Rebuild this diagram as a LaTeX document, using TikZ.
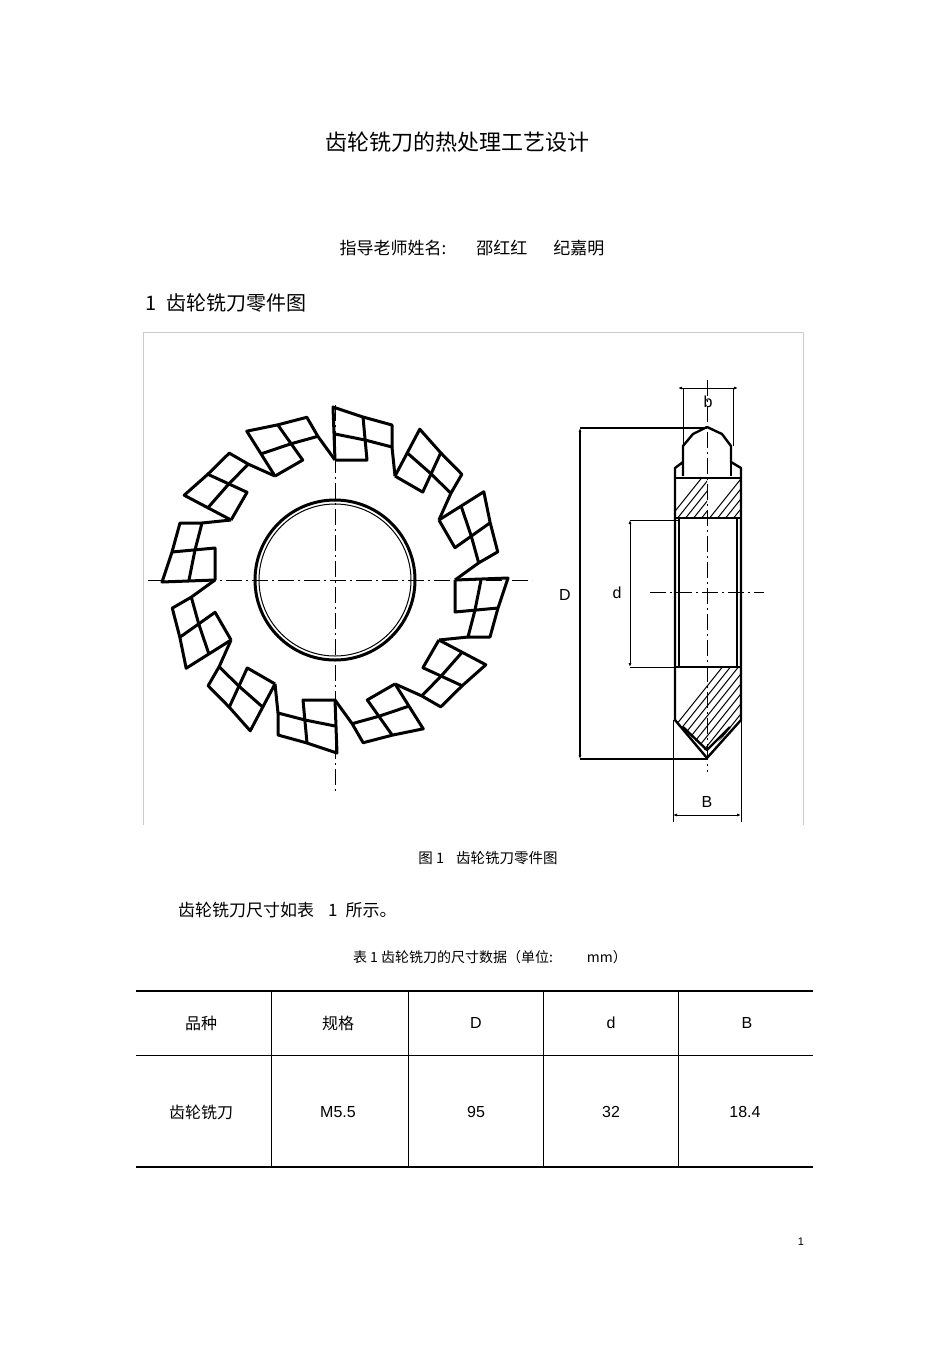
\documentclass[tikz,border=0pt]{standalone}
\usepackage{fontspec}
\setmainfont{Liberation Sans}
\newfontfamily\cjk{Noto Sans CJK SC}
\usetikzlibrary{arrows.meta}
\tikzset{
 thk/.style={line width=2.4pt,line join=round},
 gthk/.style={line width=3pt,line join=round},
 cl/.style={line width=1pt,dash pattern=on 16pt off 4pt on 2pt off 4pt},
 dim/.style={line width=1pt,{Latex[length=4pt,width=3pt]}-{Latex[length=4pt,width=3pt]}},
 ext/.style={line width=1pt},
 txt/.style={inner sep=0pt,font=\cjk},
}
\begin{document}
\begin{tikzpicture}[x=1pt,y=-1pt]
\useasboundingbox (0,0) rectangle (950,1345);
% texts
\node[txt,font=\cjk\fontsize{22}{22}\selectfont] (title) at (457,142) {齿轮铣刀的热处理工艺设计};
\node[txt,font=\cjk\fontsize{17}{17}\selectfont] (tutor) at (472,248) {指导老师姓名:\hspace{30pt}邵红红\hspace{26pt}纪嘉明};
\node[txt,anchor=west,font=\cjk\fontsize{20}{20}\selectfont] (sec) at (145,303) {1\hspace{10pt}齿轮铣刀零件图};
\node[txt,font=\cjk\fontsize{14.5}{14.5}\selectfont] (cap) at (488,858) {图 1\hspace{12pt}齿轮铣刀零件图};
\node[txt,anchor=west,font=\cjk\fontsize{17}{17}\selectfont] (para) at (178,910) {齿轮铣刀尺寸如表\hspace{14pt}1\hspace{8pt}所示。};
\node[txt,font=\cjk\fontsize{14}{14}\selectfont] (tcap) at (490,957) {表 1 齿轮铣刀的尺寸数据（单位:\hspace{34pt}mm）};
\node[inner sep=0pt,font=\fontsize{11}{11}\selectfont] (pg) at (801,1242) {1};
% frame
\draw[gray!40,line width=0.8pt] (143,825) -- (143,332) -- (803,332) -- (803,825);
% gear front view
\foreach \k in {0,...,11}{
 \begin{scope}[shift={(335,580)},y=1pt,rotate=-30*\k]
 \draw[gthk] (0,120) -- (-2,173) -- (28,163) -- (57,155) -- (57,133) -- (30,140);
 \draw[gthk] (0,120) -- (32,120) -- (28,163);
 \draw[gthk] (0,146) -- (30,140);
 \draw[gthk] (57,133) -- (60,104);
 \end{scope}}
\draw[gthk] (335,580) circle[radius=80];
\draw[line width=1pt] (335,580) circle[radius=76];
\draw[cl] (148,580) -- (532,580);
\draw[cl] (335,405) -- (335,793);
% side view hatching
\begin{scope}
 \clip (675,478) rectangle (707,518);
 \foreach \i in {0,...,10}{\draw[line width=1pt] (660+8*\i,530) -- +(48,-60);}
\end{scope}
\begin{scope}
 \clip (707,478) rectangle (741,518);
 \foreach \i in {0,...,10}{\draw[line width=1pt] (700+8*\i,530) -- +(48,-60);}
\end{scope}
\begin{scope}
 \clip (675,667) -- (741,667) -- (741,720) -- (707,752) -- (675,720) -- cycle;
 \foreach \i in {0,...,20}{\draw[line width=1pt] (640+8*\i,770) -- +(100,-125);}
\end{scope}
% side view outline
\draw[thk] (683,476) -- (683,446) -- (693,434) -- (707,427) -- (722,434) -- (731,446) -- (731,462) -- (741,468) -- (741,720) -- (707,758) -- (675,720) -- (675,468) -- (683,462);
\draw[thk] (675,478) -- (741,478) (675,518) -- (741,518) (675,667) -- (741,667);
\draw[thk] (731,446) -- (731,476);
\draw[line width=1.2pt] (679,518) -- (679,667) (737,518) -- (737,667);
\draw[thk] (683,727) -- (707,750) -- (730,727);
% centre lines side
\draw[cl] (707,380) -- (707,772);
\draw[cl] (650,592) -- (764,592);
% dimensions
\coordinate (Dt) at (580,428); \coordinate (Db) at (580,759);
\draw[ext,line width=1.8pt] (Dt) -- (707,428) (Db) -- (707,759);
\draw[dim,line width=1.8pt] (Dt) -- (Db);
\node[inner sep=0pt,font=\fontsize{16}{16}\selectfont] (Dl) at (565,595) {D};
\coordinate (dt) at (630,520); \coordinate (db) at (630,667);
\draw[ext] (dt) -- (679,520) (db) -- (679,667);
\draw[dim] (dt) -- (db);
\node[inner sep=0pt,font=\fontsize{16}{16}\selectfont] (dl) at (617,593) {d};
\coordinate (bl) at (683,388); \coordinate (br) at (733,388);
\draw[ext] (bl) -- (683,446) (br) -- (733,446);
\draw[dim] (678,388) -- (738,388);
\node[inner sep=0pt,font=\fontsize{16}{16}\selectfont] (blab) at (708,402) {b};
\coordinate (Bl) at (673,815); \coordinate (Br) at (741,815);
\draw[ext] (673,720) -- (673,822) (741,720) -- (741,822);
\draw[dim] (Bl) -- (Br);
\node[inner sep=0pt,font=\fontsize{16}{16}\selectfont] (Blab) at (707,802) {B};
% table
\draw[line width=2pt] (136,991) -- (813,991) (136,1167) -- (813,1167);
\draw[line width=1pt] (136,1055) -- (813,1055);
\foreach \x in {271,408,543,678}{\draw[line width=1pt] (\x,991) -- (\x,1167);}
\tikzset{cell/.style={inner sep=0pt,font=\fontsize{16}{16}\selectfont}}
\node[cell,font=\cjk\fontsize{16}{16}\selectfont] (h1) at (201,1023) {品种};
\node[cell,font=\cjk\fontsize{16}{16}\selectfont] (h2) at (338,1023) {规格};
\node[cell] (h3) at (476,1023) {D};
\node[cell] (h4) at (611,1023) {d};
\node[cell] (h5) at (747,1023) {B};
\node[cell,font=\cjk\fontsize{16}{16}\selectfont] (r1) at (201,1112) {齿轮铣刀};
\node[cell] (r2) at (338,1112) {M5.5};
\node[cell] (r3) at (476,1112) {95};
\node[cell] (r4) at (611,1112) {32};
\node[cell] (r5) at (745,1112) {18.4};
\end{tikzpicture}
\end{document}
